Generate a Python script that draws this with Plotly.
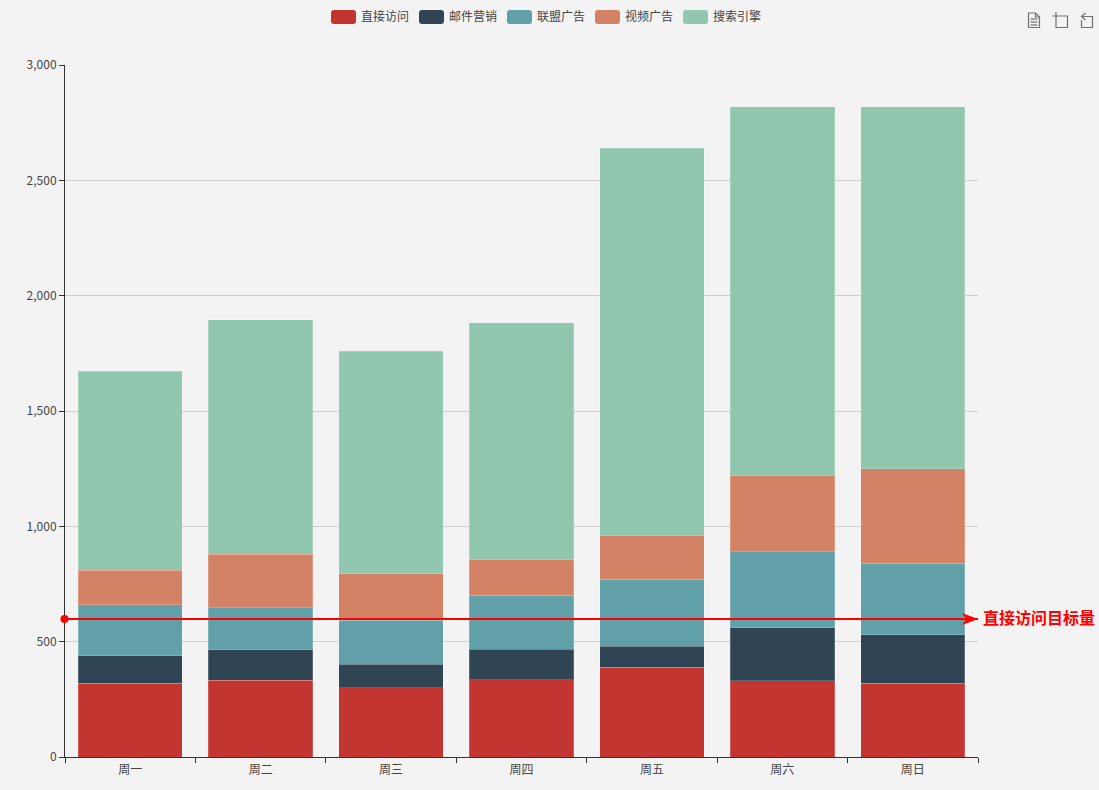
import plotly.graph_objects as go

days = ["周一", "周二", "周三", "周四", "周五", "周六", "周日"]
series_names = ["直接访问", "邮件营销", "联盟广告", "视频广告", "搜索引擎"]
direct = [320, 332, 301, 334, 390, 330, 320]
mail = [120, 132, 101, 134, 90, 230, 210]
union = [220, 182, 191, 234, 290, 330, 310]
video = [150, 232, 201, 154, 190, 330, 410]
search = [862, 1018, 964, 1026, 1679, 1600, 1570]
target = 600
target_label = "直接访问目标量"
colors = ["#c23531", "#2f4554", "#61a0a8", "#d48265", "#91c7ae"]

W, H = 1099, 790
FONT = "Noto Sans CJK SC"
L, R, T, B = 65, 978, 65, 757


def px(x):
    return (x - L) / (R - L)


def py(y):
    return (B - y) / (B - T)


def path(points, close=False):
    s = "M" + " L".join(f"{px(x):.5f},{py(y):.5f}" for x, y in points)
    return s + (" Z" if close else "")


def rounded(x0, y0, x1, y1, r=3):
    return (
        f"M{px(x0+r):.5f},{py(y0):.5f} L{px(x1-r):.5f},{py(y0):.5f} "
        f"Q{px(x1):.5f},{py(y0):.5f} {px(x1):.5f},{py(y0+r):.5f} "
        f"L{px(x1):.5f},{py(y1-r):.5f} Q{px(x1):.5f},{py(y1):.5f} {px(x1-r):.5f},{py(y1):.5f} "
        f"L{px(x0+r):.5f},{py(y1):.5f} Q{px(x0):.5f},{py(y1):.5f} {px(x0):.5f},{py(y1-r):.5f} "
        f"L{px(x0):.5f},{py(y0+r):.5f} Q{px(x0):.5f},{py(y0):.5f} {px(x0+r):.5f},{py(y0):.5f} Z"
    )


fig = go.Figure()
for name, vals, col in zip(series_names, [direct, mail, union, video, search], colors):
    fig.add_trace(go.Bar(
        x=days, y=vals, name=name,
        marker=dict(color=col, line=dict(color="rgba(255,255,255,0.2)", width=1)),
    ))

shapes = []
annotations = []
# target mark line with its start dot and end arrow, anchored to the value axis
red = "#ff0000"
mark = dict(xref="paper", yref="y", yanchor=target, ysizemode="pixel", layer="above")
shapes += [
    dict(mark, type="line", x0=0, x1=1, y0=-0.4, y1=-0.4, line=dict(color=red, width=2)),
    dict(mark, type="circle", xsizemode="pixel", xanchor=0, x0=-4.5, x1=3.5, y0=-4.4, y1=3.6,
         fillcolor=red, line=dict(width=0)),
    dict(mark, type="path", xsizemode="pixel", xanchor=1,
         path="M0,-0.4 L-16,5.6 L-12,-0.4 L-16,-6.4 Z", fillcolor=red, line=dict(width=0)),
]

# legend
legend_x = [331, 419, 507, 595, 683]
for lx, name, col in zip(legend_x, series_names, colors):
    shapes.append(dict(type="path", xref="paper", yref="paper", path=rounded(lx, 10, lx + 25, 24),
                       fillcolor=col, line=dict(width=0)))
    annotations.append(dict(text=name, xref="paper", yref="paper", x=px(lx + 28), y=py(15.5),
                            xanchor="left", yanchor="middle", showarrow=False,
                            font=dict(size=12, color="#444444", family=FONT)))

# toolbox icons
icon = dict(type="path", xref="paper", yref="paper", line=dict(color="#707070", width=1.2))
shapes += [
    dict(icon, path=path([(1028.5, 13), (1035.5, 13), (1039.5, 17), (1039.5, 27.5), (1028.5, 27.5)], True)),
    dict(icon, path=path([(1035.5, 13), (1035.5, 17), (1039.5, 17)])),
    dict(icon, path=path([(1030.5, 19), (1037.5, 19)])),
    dict(icon, path=path([(1030.5, 22), (1037.5, 22)])),
    dict(icon, path=path([(1030.5, 25), (1037.5, 25)])),
    dict(icon, path=path([(1052, 16), (1067.5, 16), (1067.5, 27.5), (1056, 27.5), (1056, 12)])),
    dict(icon, path=path([(1081.5, 16.5), (1092.5, 16.5), (1092.5, 27.5), (1081.5, 27.5), (1081.5, 20)])),
    dict(icon, path=path([(1085.5, 13), (1081.5, 16.5), (1085.5, 20)])),
]

annotations.append(dict(text=target_label, xref="paper", yref="y", x=px(981), y=target, yshift=1.5,
                        xanchor="left", yanchor="middle", showarrow=False,
                        font=dict(size=16, color=red, family=FONT, weight=600)))

fig.update_layout(
    width=W, height=H, barmode="stack", bargap=0.2,
    paper_bgcolor="#f3f3f3", plot_bgcolor="#f3f3f3",
    margin=dict(l=L, r=W - R, t=T, b=H - B, pad=0),
    showlegend=False,
    font=dict(family=FONT, size=12, color="#444444"),
    xaxis=dict(type="category", tickson="boundaries", ticks="outside", ticklen=5, tickcolor="#333333",
               showline=True, linecolor="#333333", linewidth=1, showgrid=False, zeroline=False,
               ticklabelstandoff=2, tickfont=dict(size=12, color="#444444")),
    yaxis=dict(range=[0, 3000], dtick=500, tickformat=",", ticks="outside", ticklen=5, tickcolor="#333333",
               showline=True, linecolor="#333333", linewidth=1, showgrid=True, gridcolor="#cccccc",
               gridwidth=1, zeroline=False, tickfont=dict(size=12, color="#444444")),
    shapes=shapes, annotations=annotations,
)
fig.write_html("out.html", config=dict(displayModeBar=False),
               post_script="document.body.style.margin='0';")
